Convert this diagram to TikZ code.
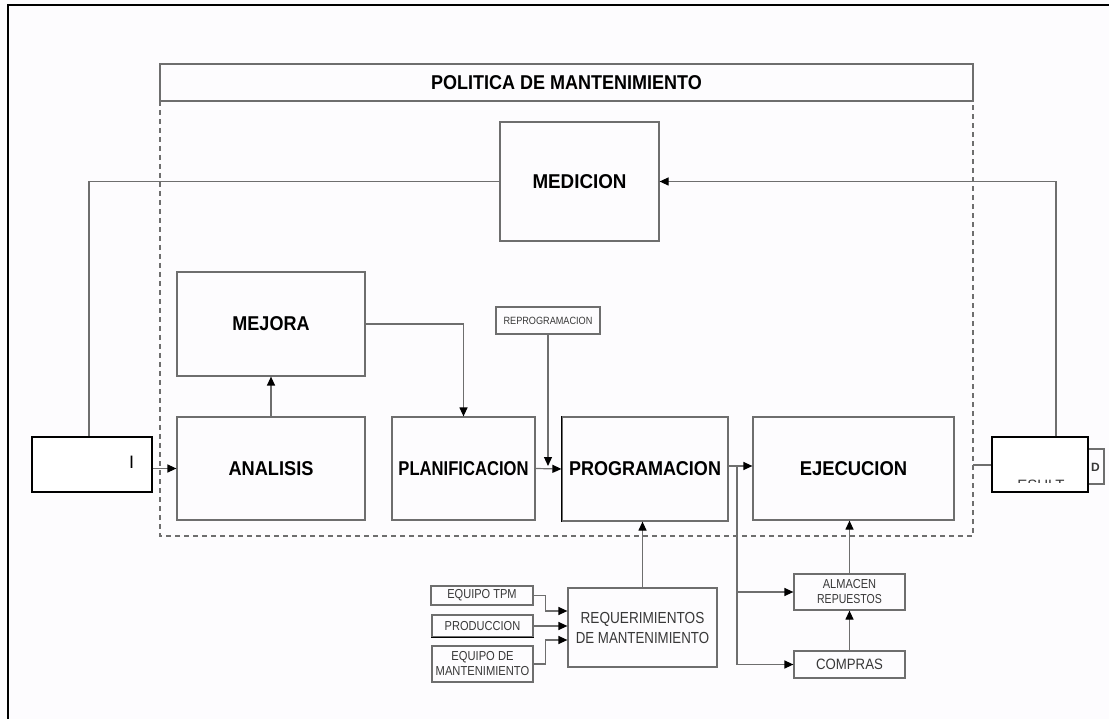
\documentclass[tikz,border=0pt]{standalone}
\usepackage{fontspec}
\setmainfont{Liberation Sans}
\usepackage{graphicx}
\usetikzlibrary{arrows.meta,calc}
\definecolor{linegray}{HTML}{6E6E6E}
\definecolor{paper}{HTML}{FDFCFE}
\definecolor{labelgray}{HTML}{383838}
% horizontally condensed text
\newcommand{\sqz}[2]{\scalebox{#1}[1]{#2}}

\begin{document}
\begin{tikzpicture}[x=1pt,y=-1pt,
  box/.style={draw=linegray, line width=1.2pt, fill=paper, inner sep=0pt, align=center},
  darkbox/.style={draw=black, line width=1.5pt, fill=white, inner sep=0pt},
  big/.style={font=\fontsize{20}{22}\selectfont\bfseries, text=black},
  small/.style={font=\fontsize{13}{15}\selectfont, text=labelgray},
  conn/.style={draw=linegray, line width=1.2pt},
  arr/.style={conn, -{Triangle[length=9pt,width=8pt,color=black]}}]

% page
\fill[paper] (0,0) rectangle (1109,719);
\useasboundingbox (0,0) rectangle (1109,719);
\draw[black, line width=2.5pt] (8,719) -- (8,5) -- (1109,5);

% policy frame
\draw[linegray, line width=1.2pt, dashed, dash pattern=on 5pt off 4pt]
  (160,101) -- (160,536) -- (973,536) -- (973,101);
\node[box, minimum width=813, minimum height=37, big] (title) at (566.5,82.5)
  {\sqz{0.9}{POLITICA DE MANTENIMIENTO}};

% main blocks
\node[box, minimum width=159, minimum height=119, big] (medicion) at (579.5,181.5) {\sqz{0.94}{MEDICION}};
\node[box, minimum width=188, minimum height=104, big] (mejora) at (271,324) {\sqz{0.9}{MEJORA}};
\node[box, minimum width=104, minimum height=27, font=\fontsize{10.5}{12}\selectfont, text=labelgray] (reprog) at (548,320.5) {\sqz{0.87}{REPROGRAMACION}};
\node[box, minimum width=188, minimum height=103, big] (analisis) at (271,468.5) {\sqz{0.91}{ANALISIS}};
\node[box, minimum width=143, minimum height=103, big] (planif) at (463.5,468.5) {\sqz{0.83}{PLANIFICACION}};
\node[box, minimum width=166, minimum height=104, big] (prog) at (645,469) {\sqz{0.9}{PROGRAMACION}};
\draw[black, line width=1.8pt] (prog.north west) -- (prog.south west);
\node[box, minimum width=201, minimum height=103, big] (ejec) at (853.5,468.5) {\sqz{0.92}{EJECUCION}};

% input and output boxes
\node[darkbox, minimum width=120, minimum height=55] (inbox) at (92,464.5) {};
\node[font=\fontsize{18}{18}\selectfont] (inlabel) at (131.5,462) {I};
\node[box, minimum width=16, minimum height=35] (dbox) at (1096,466.5) {};
\node[font=\fontsize{12}{12}\selectfont\bfseries, text=labelgray] (dlabel) at (1095.5,467.5) {D};
\node[darkbox, minimum width=96, minimum height=55] (result) at (1040,464.5) {};
\begin{scope}
  \clip (993,438) rectangle (1087,482.5);
  \node[anchor=base, font=\fontsize{15}{15}\selectfont, text=labelgray, inner sep=0pt] (reslabel) at (1041,490) {ESULT};
\end{scope}

% requirements sources
\node[box, minimum width=102, minimum height=19, small] (tpm) at (482,595.5) {\sqz{0.85}{EQUIPO TPM}};
\node[box, minimum width=101, minimum height=22, small] (prod) at (482.5,626) {\sqz{0.85}{PRODUCCION}};
\draw[black, line width=1.5pt] (prod.south west) -- (prod.south east);
\node[box, minimum width=101, minimum height=36, font=\fontsize{13}{15}\selectfont, text=labelgray] (eqmant) at (482.5,664)
  {\sqz{0.86}{EQUIPO DE}\\\sqz{0.86}{MANTENIMIENTO}};
\node[box, minimum width=149, minimum height=79, font=\fontsize{16}{20}\selectfont, text=labelgray] (req) at (642.5,627.5)
  {\sqz{0.85}{REQUERIMIENTOS}\\\sqz{0.83}{DE MANTENIMIENTO}};

% stores and purchasing
\node[box, minimum width=111, minimum height=36, font=\fontsize{13}{15}\selectfont, text=labelgray] (almacen) at (849.5,592)
  {\sqz{0.85}{ALMACEN}\\\sqz{0.81}{REPUESTOS}};
\node[box, minimum width=111, minimum height=27, font=\fontsize{15}{16}\selectfont, text=labelgray] (compras) at (849.5,664.5)
  {\sqz{0.88}{COMPRAS}};

% feedback loop through MEDICION
\coordinate (lcorner) at (89,181.5);
\coordinate (rcorner) at (1056,181.5);
\draw[conn] (medicion.west) -- (lcorner) -- (lcorner |- inbox.north);
\draw[arr] (rcorner |- result.north) -- (rcorner) -- (medicion.east);

% main flow
\draw[arr] (inbox.east |- analisis.west) -- (analisis.west);
\draw[arr] (analisis.north) -- (mejora.south);
\draw[arr] (mejora.east) -| (planif.north);
\draw[arr] (planif.east) -- (prog.west);
\draw[arr] (reprog.south) -- (reprog.south |- 0,466);
\coordinate (split) at (737,466);
\draw[arr] (prog.east |- split) -- (ejec.west |- split);
\draw[conn] (split) -- (split |- compras.west);
\draw[arr] (split |- compras.west) -- (compras.west);
\draw[arr] (split |- almacen.west) -- (almacen.west);
\draw[arr] (compras.north) -- (almacen.south);
\draw[arr] (almacen.north) -- (almacen.north |- ejec.south);
\draw[arr] (req.north) -- (req.north |- prog.south);

% output link
\coordinate (frameexit) at (973,465);
\draw[conn] (frameexit) -- (result.west |- frameexit);

% requirements inputs
\draw[arr] (tpm.east) -- ++(12,0) |- (req.west |- 0,611);
\draw[arr] (prod.east) -- (req.west |- prod.east);
\draw[arr] (eqmant.east) -- ++(12,0) |- (req.west |- 0,640);
\end{tikzpicture}
\end{document}
